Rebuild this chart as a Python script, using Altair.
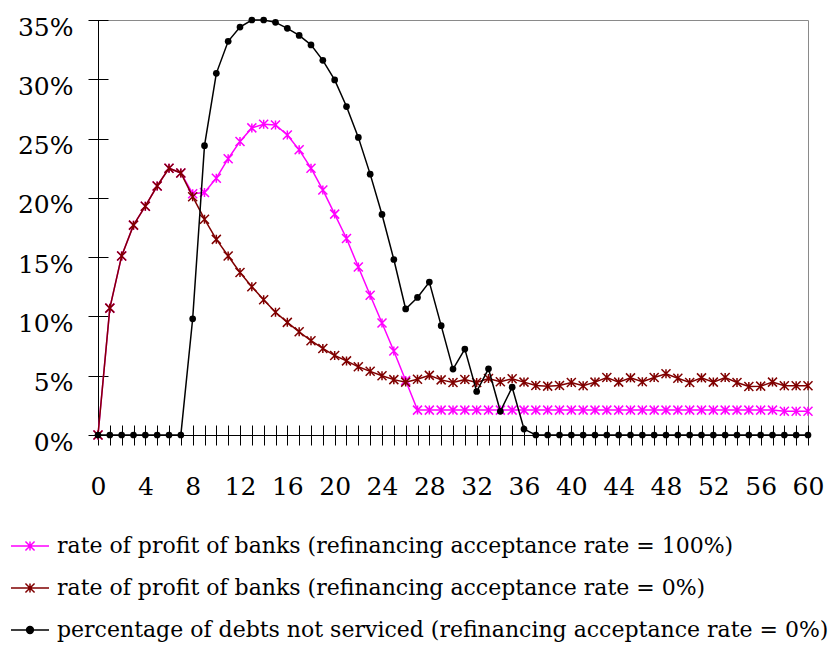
import altair as alt
import pandas as pd

FONT = "DejaVu Serif"

periods = list(range(61))

profit_refi_100 = [
    0.0, 10.7, 15.1, 17.7, 19.3, 21.0, 22.5, 22.1, 20.35, 20.45,
    21.66, 23.3, 24.76, 25.9, 26.2, 26.15, 25.3, 24.05, 22.5, 20.67,
    18.63, 16.57, 14.17, 11.79, 9.45, 7.08, 4.6, 2.1, 2.1, 2.1,
    2.1, 2.1, 2.1, 2.1, 2.1, 2.1, 2.1, 2.1, 2.1, 2.1,
    2.1, 2.1, 2.1, 2.1, 2.1, 2.1, 2.1, 2.1, 2.1, 2.1,
    2.1, 2.1, 2.1, 2.1, 2.1, 2.1, 2.1, 2.1, 2.0, 2.0,
    2.0,
]

profit_refi_0 = [
    0.0, 10.7, 15.1, 17.7, 19.3, 21.0, 22.5, 22.1, 20.1, 18.2,
    16.5, 15.1, 13.7, 12.5, 11.4, 10.35, 9.5, 8.7, 7.95, 7.3,
    6.7, 6.25, 5.75, 5.37, 5.0, 4.67, 4.46, 4.7, 5.03, 4.65,
    4.43, 4.68, 4.43, 4.77, 4.49, 4.74, 4.46, 4.17, 4.12, 4.17,
    4.43, 4.15, 4.46, 4.85, 4.46, 4.82, 4.49, 4.85, 5.16, 4.79,
    4.43, 4.82, 4.46, 4.85, 4.43, 4.09, 4.12, 4.46, 4.15, 4.15,
    4.15,
]

debts_not_serviced = [
    0.0, 0.0, 0.0, 0.0, 0.0, 0.0, 0.0, 0.0, 9.8, 24.4,
    30.5, 33.2, 34.4, 35.0, 35.0, 34.8, 34.3, 33.7, 32.9, 31.6,
    29.95, 27.7, 25.1, 22.0, 18.6, 14.8, 10.63, 11.6, 12.9, 9.22,
    5.56, 7.25, 3.67, 5.58, 2.0, 4.03, 0.5, 0.0, 0.0, 0.0,
    0.0, 0.0, 0.0, 0.0, 0.0, 0.0, 0.0, 0.0, 0.0, 0.0,
    0.0, 0.0, 0.0, 0.0, 0.0, 0.0, 0.0, 0.0, 0.0, 0.0,
    0.0,
]

names = [
    "rate of profit of banks (refinancing acceptance rate = 100%)",
    "rate of profit of banks (refinancing acceptance rate = 0%)",
    "percentage of debts not serviced (refinancing acceptance rate = 0%)",
]
colors = ["#FF00FF", "#800000", "#000000"]
series_values = [profit_refi_100, profit_refi_0, debts_not_serviced]

y_ticks = [0.0, 0.05, 0.1, 0.15, 0.2, 0.25, 0.3, 0.35]

rows = []
for name, vals in zip(names, series_values):
    for p, v in zip(periods, vals):
        rows.append({"period": p, "value": round(v / 100, 5), "series": name})
df = pd.DataFrame(rows)

# marker paths
ASTERISK = "M0,-1V1M-1,-1L1,1M-1,1L1,-1"


def circle_path(r):
    return f"M{r},0A{r},{r} 0 1,1 {-r},0A{r},{r} 0 1,1 {r},0Z"


a = 0.24
legend_ast = f"M-1,0H1M0,{-a}V{a}M{-a},{-a}L{a},{a}M{-a},{a}L{a},{-a}"
legend_dot = "M-1,0H1" + "".join(circle_path(r) for r in (0.18, 0.13, 0.08, 0.03))
legend_paths = [legend_ast, legend_ast, legend_dot]

xscale = alt.Scale(domain=[0, 60], nice=False, zero=False)
yscale = alt.Scale(domain=[0, 0.35], nice=False, zero=False)

axis_x_ticks = alt.Axis(
    orient="bottom", offset=-10, values=periods, tickSize=20, tickColor="black",
    tickWidth=1, domain=False, grid=False,
    labelExpr="datum.value % 4 === 0 ? datum.label : ''",
    labelFont=FONT, labelFontSize=25, labelColor="black", labelPadding=29,
    labelOverlap=False, labelFlush=False, title=None,
)
axis_x_line = alt.Axis(
    orient="bottom", offset=0, domain=True, domainColor="black", domainWidth=1,
    ticks=False, labels=False, grid=False, title=None,
)
axis_y_ticks = alt.Axis(
    orient="left", offset=-10, values=y_ticks, format=".0%", tickSize=20,
    tickColor="black", tickWidth=1, domain=False, grid=False,
    labelFont=FONT, labelFontSize=25, labelColor="black", labelPadding=15,
    labelOffset=7, labelOverlap=False, labelFlush=False, title=None,
)
axis_y_line = alt.Axis(
    orient="left", offset=0, domain=True, domainColor="black", domainWidth=1,
    ticks=False, labels=False, grid=False, title=None,
)

layers = []
for i, (name, color) in enumerate(zip(names, colors)):
    base = alt.Chart(df).transform_filter(alt.datum.series == name)
    line = base.mark_line(color=color, strokeWidth=1.5).encode(
        x=alt.X("period:Q", scale=xscale, axis=axis_x_ticks if i == 0 else None),
        y=alt.Y("value:Q", scale=yscale, axis=axis_y_ticks if i == 0 else None),
    )
    if i < 2:
        pts = base.mark_point(
            shape=ASTERISK, size=81, color=color, filled=False,
            strokeWidth=1.5, opacity=1,
        )
    else:
        pts = base.mark_point(
            shape="circle", size=45, color=color, filled=True, opacity=1,
        )
    pts = pts.encode(
        x=alt.X("period:Q", scale=xscale, axis=axis_x_line if i == 0 else None),
        y=alt.Y("value:Q", scale=yscale, axis=axis_y_line if i == 0 else None),
    )
    layers += [line, pts]

leg = alt.Legend(
    title=None, orient="none", legendX=-88, legendY=506, direction="vertical",
    labelFont=FONT, labelFontSize=22, labelColor="black", labelLimit=1000,
    symbolSize=1444, symbolStrokeWidth=1.5, symbolOpacity=1, rowPadding=11,
    labelOffset=7, padding=0,
)

legend_layer = alt.Chart(df).transform_filter("datum.period < 0").mark_point(
    filled=False, opacity=1, strokeWidth=1.5
).encode(
    x=alt.X("period:Q", scale=xscale, axis=None),
    y=alt.Y("value:Q", scale=yscale, axis=None),
    color=alt.Color("series:N", scale=alt.Scale(domain=names, range=colors), legend=leg),
    shape=alt.Shape("series:N", scale=alt.Scale(domain=names, range=legend_paths), legend=leg),
)

chart = (
    alt.layer(*layers, legend_layer)
    .resolve_axis(x="independent", y="independent")
    .properties(
        width=710, height=415,
        autosize=alt.AutoSizeParams(type="none"),
        padding={"left": 90, "top": 12, "right": 24, "bottom": 210},
    )
    .configure_view(stroke="#8a8a8a", strokeWidth=1)
)

chart.save("out.html", embed_options={"renderer": "svg", "actions": False})
